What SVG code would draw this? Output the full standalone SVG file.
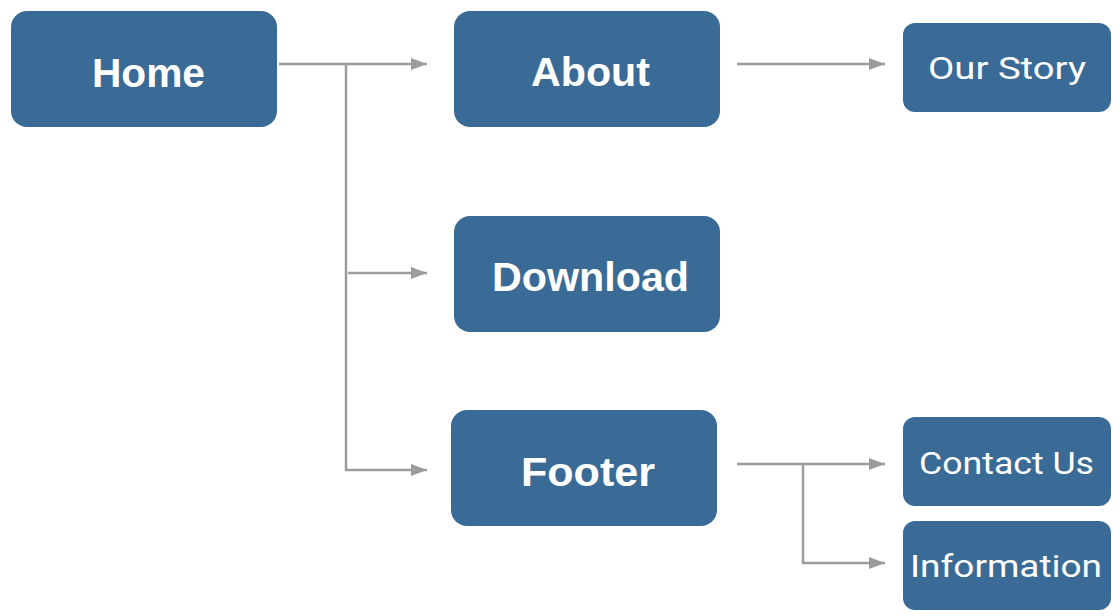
<svg xmlns="http://www.w3.org/2000/svg" width="1120" height="616" viewBox="0 0 1120 616">
  <style>
    .box { fill: #3a6b96; }
    .big { font-family: "Liberation Sans", Arial, sans-serif; font-weight: bold; font-size: 40px; fill: #ffffff; text-anchor: middle; }
    .small { font-family: Roboto, "Liberation Sans", sans-serif; font-size: 31px; fill: #ffffff; text-anchor: middle; }
    .link { fill: none; stroke: #9c9c9c; stroke-width: 2.5; }
  </style>
  <defs>
    <marker id="arrow" viewBox="0 0 16 12" refX="16" refY="6" markerWidth="16" markerHeight="12" markerUnits="userSpaceOnUse" orient="auto">
      <path d="M0,0 L16,6 L0,12 Z" fill="#9c9c9c"/>
    </marker>
  </defs>
  <rect width="1120" height="616" fill="#ffffff"/>

  <g id="connectors">
    <!-- Home to its three children -->
    <path class="link" d="M279,64 H427" marker-end="url(#arrow)"/>
    <path class="link" d="M346,64 V470 H427" marker-end="url(#arrow)"/>
    <path class="link" d="M348,273 H427" marker-end="url(#arrow)"/>
    <!-- About to Our Story -->
    <path class="link" d="M737,64 H885" marker-end="url(#arrow)"/>
    <!-- Footer to Contact Us and Information -->
    <path class="link" d="M737,464 H885" marker-end="url(#arrow)"/>
    <path class="link" d="M803,464 V563 H885" marker-end="url(#arrow)"/>
  </g>

  <g id="home">
    <rect class="box" x="11" y="11" width="266" height="116" rx="16"/>
    <text class="big" x="148.5" y="87" textLength="113" lengthAdjust="spacingAndGlyphs">Home</text>
  </g>
  <g id="about">
    <rect class="box" x="454" y="11" width="266" height="116" rx="16"/>
    <text class="big" x="590.5" y="86" textLength="119" lengthAdjust="spacingAndGlyphs">About</text>
  </g>
  <g id="download">
    <rect class="box" x="454" y="216" width="266" height="116" rx="16"/>
    <text class="big" x="590.5" y="291" textLength="197" lengthAdjust="spacingAndGlyphs">Download</text>
  </g>
  <g id="footer">
    <rect class="box" x="451" y="410" width="266" height="116" rx="16"/>
    <text class="big" x="588" y="486" textLength="134" lengthAdjust="spacingAndGlyphs">Footer</text>
  </g>
  <g id="our-story">
    <rect class="box" x="903" y="23" width="208" height="89" rx="12"/>
    <text class="small" x="1007" y="79" textLength="158" lengthAdjust="spacingAndGlyphs">Our Story</text>
  </g>
  <g id="contact-us">
    <rect class="box" x="903" y="417" width="208" height="89" rx="12"/>
    <text class="small" x="1006.5" y="474" textLength="175" lengthAdjust="spacingAndGlyphs">Contact Us</text>
  </g>
  <g id="information">
    <rect class="box" x="903" y="521" width="208" height="89" rx="12"/>
    <text class="small" x="1006" y="577" textLength="192" lengthAdjust="spacingAndGlyphs">Information</text>
  </g>
</svg>
